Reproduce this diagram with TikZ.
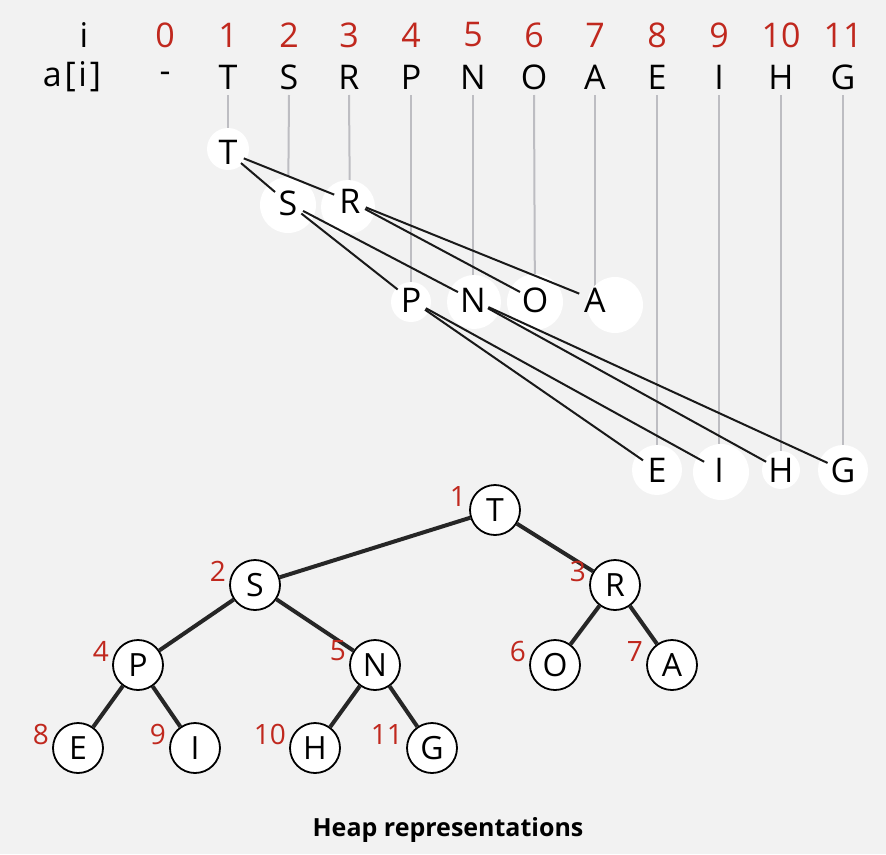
\documentclass[tikz,border=0pt]{standalone}
\usepackage{fontspec}
\setmainfont{Open Sans}
\definecolor{bg}{HTML}{F2F2F2}
\definecolor{red1}{HTML}{C0281E}
\definecolor{gr}{HTML}{BDBDC2}
\begin{document}
\begin{tikzpicture}[x=1pt,y=-1pt,
  lab/.style={font=\fontsize{34}{34}\selectfont},
  idx/.style={font=\fontsize{34}{34}\selectfont,text=red1},
  wc/.style={circle,fill=white,inner sep=0pt},
  hn/.style={circle,draw=black,line width=1.8pt,fill=white,minimum size=50pt,inner sep=0pt,font=\fontsize{32}{32}\selectfont},
  hl/.style={font=\fontsize{28}{28}\selectfont,text=red1,anchor=east,inner sep=0pt},
  te/.style={line width=2pt,black!90,shorten >=17pt,shorten <=17pt},
  be/.style={line width=4pt,black!85}]
\fill[bg] (0,0) rectangle (886,854);
\useasboundingbox (0,0) rectangle (886,854);
% header rows
\node[lab] (ih) at (84,35) {i};
\node[lab,font=\fontsize{34}{34}\selectfont\addfontfeatures{LetterSpace=8}] (ah) at (72,77) {a[i]};
\foreach \k/\x/\c in {0/165/-,1/228/T,2/289/S,3/349/R,4/411/P,5/473/N,6/534/O,7/595/A,8/657/E,9/719/I,10/781/H,11/843/G}{
  \node[idx] (i\k) at (\x,35) {\k};
  \node[lab] (a\k) at (\x,77) {\c};
}
% text positions of upper tree
\coordinate (T) at (228,152); \coordinate (S) at (288,203); \coordinate (R) at (350,201);
\coordinate (P) at (411,300); \coordinate (N) at (473,300); \coordinate (O) at (535,300); \coordinate (A) at (595,300);
\coordinate (E) at (657,470); \coordinate (I) at (719,470); \coordinate (H) at (781,470); \coordinate (G) at (843,470);
% gray drops
\foreach \k/\n in {1/T,2/S,3/R,4/P,5/N,6/O,7/A,8/E,9/I,10/H,11/G}{
  \draw[gr,line width=2pt] ([yshift=-18pt]a\k.center) -- ([yshift=-18pt]\n);
}
% white blobs
\node[wc,minimum size=42pt] (cT) at (228,149) {};
\node[wc,minimum size=56pt] (cS) at (288,205) {};
\node[wc,minimum size=54pt] (cR) at (348,207) {};
\node[wc,minimum size=40pt] (cP) at (411,302) {};
\node[wc,minimum size=54pt] (cN) at (474,302) {};
\node[wc,minimum size=56pt] (cO) at (535,302) {};
\node[wc,minimum size=56pt] (cA) at (615,305) {};
\node[wc,minimum size=50pt] (cE) at (657,470) {};
\node[wc,minimum size=56pt] (cI) at (721,472) {};
\node[wc,minimum size=38pt] (cH) at (781,470) {};
\node[wc,minimum size=50pt] (cG) at (843,470) {};
% black edges
\foreach \u/\v in {T/S,T/R,S/P,S/N,R/O,R/A,P/E,P/I,N/H,N/G}{
  \draw[te] (\u) -- (\v);
}
\foreach \n in {T,S,R,P,N,O,A,E,I,H,G}{
  \node[lab] (t\n) at (\n) {\n};
}
% lower heap
\node[hn] (h1) at (495,510) {T};
\node[hn] (h2) at (255,585) {S};
\node[hn] (h3) at (615,585) {R};
\node[hn] (h4) at (138,665) {P};
\node[hn] (h5) at (375,665) {N};
\node[hn] (h6) at (555,665) {O};
\node[hn] (h7) at (672,665) {A};
\node[hn] (h8) at (78,748) {E};
\node[hn] (h9) at (195,748) {I};
\node[hn] (h10) at (315,748) {H};
\node[hn] (h11) at (432,748) {G};
\foreach \a/\b in {1/2,1/3,2/4,2/5,3/6,3/7,4/8,4/9,5/10,5/11}{
  \draw[be] (h\a) -- (h\b);
}
\foreach \k in {1,...,11}{
  \node[hl] (l\k) at ([xshift=-3pt,yshift=14pt]h\k.west) {\k};
}
\node[font=\bfseries\fontsize{25}{25}\selectfont] (title) at (448,830) {Heap representations};
\end{tikzpicture}
\end{document}
